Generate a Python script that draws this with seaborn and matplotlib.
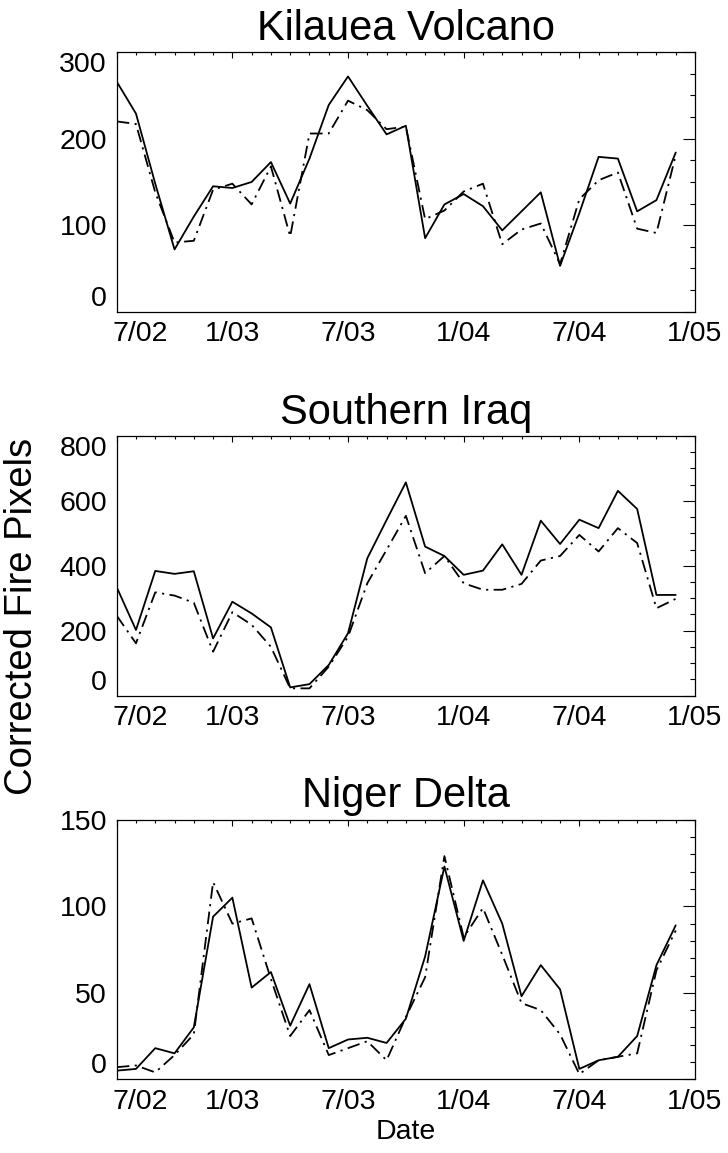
import numpy as np
import pandas as pd
import seaborn as sns
import matplotlib.pyplot as plt
from matplotlib.ticker import FixedLocator
from matplotlib.transforms import ScaledTranslation

# monthly samples, Jul 2002 .. Dec 2004
months = [str(p) for p in pd.period_range("2002-07", "2004-12", freq="M")]
tick_labels = ["7/02", "1/03", "7/03", "1/04", "7/04", "1/05"]

kilauea_solid = [266, 229, 148, 72, 110, 145, 143, 150, 173, 125, 177, 239, 272, 238, 205, 215,
                 85, 124, 136, 122, 94, 116, 138, 53, 114, 179, 177, 116, 129, 184]
kilauea_dash = [220, 217, 138, 80, 82, 141, 148, 124, 168, 87, 206, 206, 244, 233, 211, 214,
                107, 117, 139, 148, 78, 95, 102, 55, 130, 152, 161, 96, 91, 181]

iraq_solid = [334, 202, 384, 375, 383, 176, 289, 253, 210, 25, 35, 94, 192, 423, 541, 657,
              459, 430, 372, 385, 466, 372, 539, 467, 542, 516, 631, 575, 310, 310]
iraq_dash = [246, 161, 318, 308, 286, 135, 257, 218, 150, 22, 22, 89, 181, 346, 449, 554,
             377, 430, 346, 326, 326, 344, 416, 430, 495, 444, 516, 470, 269, 298]

niger_solid = [5, 6, 18, 15, 30, 94, 105, 53, 62, 31, 55, 18, 23, 24, 21, 35,
               71, 123, 80, 115, 90, 48, 66, 52, 6, 11, 13, 25, 66, 89]
niger_dash = [7, 8, 4, 14, 26, 114, 90, 93, 58, 25, 40, 14, 18, 22, 11, 36,
              59, 129, 82, 99, 72, 44, 40, 26, 3, 11, 13, 15, 63, 86]

titles = ["Kilauea Volcano", "Southern Iraq", "Niger Delta"]
ymax = [300, 800, 150]
ymajor = [100, 200, 50]
yminor = [25, 50, 10]
series = [(kilauea_solid, kilauea_dash), (iraq_solid, iraq_dash), (niger_solid, niger_dash)]

sns.set_theme(style="white")
plt.rcParams["font.family"] = ["Liberation Sans", "DejaVu Sans"]
plt.rcParams["text.color"] = "black"
plt.rcParams["axes.labelcolor"] = "black"
plt.rcParams["xtick.color"] = "black"
plt.rcParams["ytick.color"] = "black"

fig = plt.figure(figsize=(7.28, 11.53), dpi=100)
W, H = 728, 1153
left, right = 116.7, 695
bottoms = [311.7, 695.5, 1079.3]
height = 259.5

x = np.arange(len(months))
for k in range(3):
    ax = fig.add_axes([left / W, 1 - bottoms[k] / H, (right - left) / W, height / H])
    solid, dash = series[k]
    df = pd.DataFrame({"month": months, "x": x, "solid": solid, "dash": dash})
    sns.lineplot(data=df, x="x", y="solid", ax=ax, color="black", lw=1.3)
    sns.lineplot(data=df, x="x", y="dash", ax=ax, color="black", lw=1.3,
                 linestyle=(0, (7, 3, 1.2, 3)))
    ax.set_xlim(0, 30)
    ax.set_ylim(0, ymax[k])
    ax.xaxis.set_major_locator(FixedLocator(np.arange(0, 31, 6)))
    ax.set_xticklabels(tick_labels)
    ax.xaxis.set_minor_locator(FixedLocator(np.arange(0, 31, 1)))
    ax.yaxis.set_major_locator(FixedLocator(np.arange(0, ymax[k] + 1, ymajor[k])))
    ax.yaxis.set_minor_locator(FixedLocator(np.arange(0, ymax[k] + 1, yminor[k])))
    ax.set_xlabel("")
    ax.set_ylabel("")
    ax.set_title(titles[k], fontsize=30, pad=9, color="black")
    for s in ax.spines.values():
        s.set_color("black")
        s.set_linewidth(0.9)
    ax.tick_params(axis="both", which="both", direction="in", top=True, right=True,
                   colors="black", width=0.8, labelsize=20.5)
    ax.tick_params(axis="y", which="major", length=8.6, pad=7)
    ax.tick_params(axis="y", which="minor", length=3.8)
    ax.tick_params(axis="x", which="major", length=4, pad=7)
    ax.tick_params(axis="x", which="minor", length=2)
    fig.canvas.draw()
    ylabs = ax.get_yticklabels()
    ylabs[0].set_va("bottom")
    if k < 2:
        ylabs[-1].set_va("top")
    xl = ax.get_xticklabels()[0]
    xl.set_transform(xl.get_transform() + ScaledTranslation(0.23, 0, fig.dpi_scale_trans))
    if k == 2:
        ax.set_xlabel("Date", fontsize=20.5, labelpad=3, color="black")

fig.text(22 / W, 1 - 616 / H, "Corrected Fire Pixels", rotation=90, fontsize=27.5,
         ha="center", va="center", color="black")

fig.savefig("out.png", dpi=100)
